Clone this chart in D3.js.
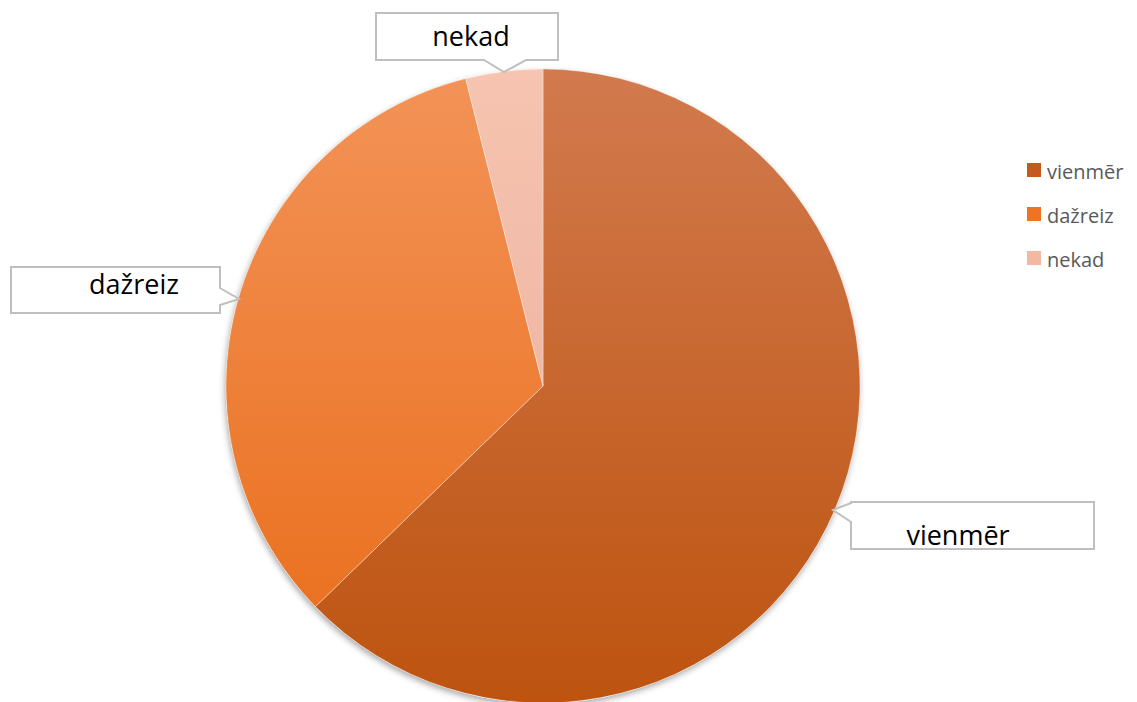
<!DOCTYPE html>
<html><head><meta charset="utf-8">
<script src="https://cdn.jsdelivr.net/npm/d3@7"></script>
<style>body{margin:0;background:#fff;}svg{display:block;font-family:"Open Sans",Lato,sans-serif;}</style>
</head><body>
<svg id="c" width="1137" height="702"></svg>
<script>
const categories = ["vienmēr", "dažreiz", "nekad"];
const values = [32, 17, 2];
const topColors = ["#d27a4e", "#f39358", "#f6c4b0"];
const bottomColors = ["#bd530f", "#e96c18", "#e8ab9a"];
const legendColors = ["#c55a1e", "#ee7424", "#f2b8a2"];

const svg = d3.select("#c");
const cx = 543, cy = 386, r = 317;
const defs = svg.append("defs");
const f = defs.append("filter").attr("id","sh").attr("x","-10%").attr("y","-10%").attr("width","120%").attr("height","120%");
f.append("feDropShadow").attr("dx",-1).attr("dy",3).attr("stdDeviation",3).attr("flood-color","#000").attr("flood-opacity",0.35);
categories.forEach((c,i)=>{
  const g = defs.append("linearGradient").attr("id","g"+i).attr("gradientUnits","userSpaceOnUse")
    .attr("x1",0).attr("x2",0).attr("y1",-r).attr("y2",r);
  g.append("stop").attr("offset","0%").attr("stop-color",topColors[i]);
  g.append("stop").attr("offset","100%").attr("stop-color",bottomColors[i]);
});

const pie = d3.pie().sort(null).value(d=>d);
const arcs = pie(values);
const arc = d3.arc().innerRadius(0).outerRadius(r);
const g = svg.append("g").attr("transform",`translate(${cx},${cy})`);
g.append("circle").attr("r",r).attr("fill","#fff").attr("filter","url(#sh)");
g.selectAll("path").data(arcs).join("path")
  .attr("d",arc).attr("fill",(d,i)=>`url(#g${i})`)
  .attr("stroke","rgba(255,255,255,0.35)").attr("stroke-width",1);

const callouts = [
  {i:0, x:851, y:502, w:243, h:47, tip:[833,510], base:[[851,503],[851,522]], tx:958, ty:545},
  {i:1, x:11, y:267, w:209, h:46, tip:[239,299], base:[[220,288],[220,305]], tx:134, ty:294},
  {i:2, x:376, y:13, w:182, h:47, tip:[504,72], base:[[484,60],[526,60]], tx:471, ty:46}
];
callouts.forEach(c=>{
  const p = d3.path();
  const {x,y,w,h} = c;
  const pts = [];
  if (c.i===2){
    pts.push([x,y],[x+w,y],[x+w,y+h],c.base[1],c.tip,c.base[0],[x,y+h]);
  } else if (c.i===1){
    pts.push([x,y],[x+w,y],c.base[0],c.tip,c.base[1],[x+w,y+h],[x,y+h]);
  } else {
    pts.push([x,y],[x+w,y],[x+w,y+h],[x,y+h],c.base[1],c.tip,c.base[0]);
  }
  p.moveTo(...pts[0]); pts.slice(1).forEach(q=>p.lineTo(...q)); p.closePath();
  svg.append("path").attr("d",p.toString()).attr("fill","#fff").attr("stroke","#bfbfbf").attr("stroke-width",2);
  svg.append("text").attr("x",c.tx).attr("y",c.ty).attr("text-anchor","middle")
    .attr("font-size",27).attr("fill","#000").text(categories[c.i]);
});

const lg = svg.append("g");
categories.forEach((c,i)=>{
  const y = 172 + i*44;
  lg.append("rect").attr("x",1027).attr("y",y-9).attr("width",14).attr("height",14).attr("fill",legendColors[i]);
  lg.append("text").attr("x",1047).attr("y",y+7).attr("font-size",20).attr("fill","#595959").text(c);
});
</script>
</body></html>
